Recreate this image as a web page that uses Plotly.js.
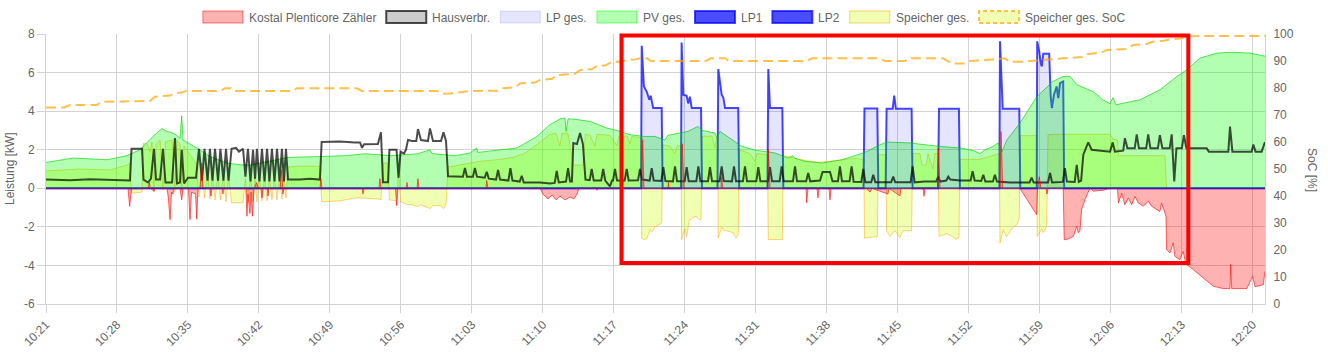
<!DOCTYPE html>
<html><head><meta charset="utf-8">
<script src="https://cdn.plot.ly/plotly-3.0.1.min.js"></script>
<style>html,body{margin:0;padding:0;background:#fff;overflow:hidden}#chart{width:1328px;height:352px}</style>
</head><body><div id="chart"></div>
<script>
const DAY = '2021-06-01 ';

// ---------------- data ----------------
const kostalT = ["10:21:00","10:29:05","10:29:15","10:29:26","10:31:04","10:31:11","10:31:18","10:31:39","10:31:45","10:32:56","10:33:04","10:33:14","10:33:23","10:33:31","10:33:37","10:34:13","10:34:23","10:34:31","10:35:03","10:35:12","10:35:21","10:35:45","10:35:52","10:35:59","10:36:11","10:36:21","10:36:29","10:37:10","10:37:16","10:37:22","10:38:21","10:38:27","10:38:33","10:40:43","10:40:49","10:40:55","10:41:07","10:41:13","10:41:22","10:41:31","10:41:47","10:41:54","10:42:12","10:42:18","10:42:24","10:42:48","10:42:54","10:42:59","10:44:05","10:44:15","10:44:22","10:44:28","10:48:01","10:48:07","10:48:13","10:52:10","10:52:16","10:52:22","10:53:50","10:53:56","10:54:02","10:55:28","10:55:35","10:55:43","10:56:30","10:56:36","10:56:42","10:57:35","10:57:41","10:57:47","11:04:23","11:04:28","11:04:35","11:09:43","11:10:01","11:10:30","11:10:54","11:11:18","11:11:41","11:12:11","11:12:41","11:13:04","11:13:22","11:13:34","11:15:14","11:15:20","11:15:26","11:19:45","11:19:51","11:19:58","11:22:20","11:22:23","11:22:26","11:23:41","11:23:45","11:23:55","11:27:34","11:27:38","11:27:44","11:32:08","11:32:14","11:32:24","11:35:57","11:36:01","11:36:09","11:37:02","11:37:08","11:37:14","11:38:13","11:38:19","11:38:25","11:41:52","11:42:16","11:42:27","11:44:02","11:44:08","11:45:13","11:45:19","11:47:29","11:47:35","11:47:41","11:48:55","11:49:00","11:49:10","11:55:05","11:55:11","11:55:21","11:57:03","11:58:42","11:58:47","11:58:57","11:59:07","11:59:37","11:59:43","11:59:49","12:01:19","12:01:25","12:01:39","12:02:19","12:02:39","12:02:48","12:02:58","12:03:08","12:03:28","12:03:57","12:04:17","12:05:16","12:05:56","12:06:40","12:06:46","12:07:05","12:07:24","12:07:44","12:08:04","12:08:24","12:08:43","12:09:13","12:09:42","12:10:02","12:10:51","12:11:01","12:11:27","12:11:31","12:11:51","12:12:10","12:12:20","12:12:50","12:13:09","12:13:19","12:13:30","12:14:09","12:15:08","12:16:07","12:17:06","12:17:46","12:17:50","12:17:56","12:19:25","12:20:00","12:20:14","12:21:03","12:21:13"];
const kostalV = [0,0,-0.94,0,0,0.3,0,-0.15,0,0,-0.5,-1.63,-0.2,-0.3,0,0,-0.6,0,0,-1.63,-0.2,-0.3,-1.6,0,0,1.31,0,0,-0.4,0,0,-0.3,0,0,-1.45,-0.3,-1.3,-0.2,-1.45,0,0.3,0,0,-0.5,0,0,-0.4,0,0,0.96,-0.3,0,0,0.5,0,0,-0.3,0,0,0.5,0,0,-0.9,0,0,0.3,0,0,0.5,0,0,0.4,0,0,-0.3,-0.55,-0.35,-0.6,-0.4,-0.6,-0.45,-0.55,-0.3,0,0,-0.1,0,0,2.52,0,0,0.3,0,0,2.31,0,0,0.6,0,0,2.04,0,0,-0.75,0,0,-0.5,0,0,-0.6,0,0,-0.2,0,-0.3,0,-0.4,0,0,-0.42,0,0,2.09,0,0,2.95,0,0,-1.37,0,0.6,0,0,-0.3,0,0,-2.66,-2.66,-2.5,-1.97,-2.3,-2.2,-1.1,-0.58,0,-0.15,-0.1,0,0,-0.76,-0.25,-0.85,-0.5,-0.85,-0.42,-0.76,-0.93,-0.67,-0.93,-1.2,-0.76,-1.45,-3.18,-3.35,-2.83,-3.53,-3.7,-3.27,-3.7,-3.95,-4.22,-4.65,-5.08,-5.2,-5.2,-3.95,-5.2,-5.2,-4.57,-5.1,-5.0,-4.3];

const hausT = [
 "10:21:00","10:23:22","10:25:20","10:27:19","10:29:05","10:29:17","10:29:26","10:30:28","10:30:37","10:31:04",
 "10:31:21","10:31:39","10:31:51","10:32:15","10:32:32","10:32:47","10:33:26","10:33:43","10:33:55","10:34:13",
 "10:34:23","10:34:37","10:35:00","10:35:48","10:36:05","10:36:23","10:36:38","10:36:56","10:37:10","10:37:25",
 "10:37:40","10:37:58","10:38:12","10:38:30","10:38:45","10:39:00","10:39:18","10:39:44","10:40:02","10:40:26",
 "10:40:40","10:40:55","10:41:10","10:41:25","10:41:37","10:41:48","10:42:03","10:42:18","10:42:33","10:42:48",
 "10:43:02","10:43:17","10:43:32","10:43:47","10:44:02","10:44:16","10:44:28","10:44:40","10:44:52","10:46:03",
 "10:47:02","10:48:01","10:48:11","10:50:00","10:51:28","10:51:58","10:52:10","10:52:22","10:53:44","10:54:02",
 "10:54:14","10:54:44","10:54:52","10:55:34","10:55:46","10:55:58","10:56:18","10:56:30","10:56:42","10:57:06",
 "10:57:31","10:57:41","10:57:59","10:58:40","10:58:52","10:59:10","10:59:57","11:00:12","11:00:27","11:00:39",
 "11:02:07","11:02:19","11:02:31","11:03:06","11:03:18","11:03:30","11:04:16","11:04:28","11:04:40","11:05:23",
 "11:05:35","11:05:47","11:06:36","11:06:48","11:07:00","11:07:43","11:07:55","11:08:07","11:09:43","11:10:42",
 "11:11:10","11:11:22","11:11:34","11:12:17","11:12:29","11:12:41","11:12:52","11:13:00","11:13:22","11:13:40",
 "11:13:57","11:14:12","11:14:37","11:14:49","11:15:01","11:15:45","11:15:57","11:16:09","11:16:37","11:16:49",
 "11:16:55","11:17:07","11:17:19","11:18:04","11:18:16","11:18:28","11:19:23","11:19:35","11:19:47","11:20:32",
 "11:20:44","11:20:56","11:21:41","11:21:53","11:22:05","11:22:50","11:23:02","11:23:14","11:23:59","11:24:11",
 "11:24:23","11:25:08","11:25:20","11:25:32","11:26:17","11:26:29","11:26:41","11:27:26","11:27:38","11:27:50",
 "11:28:39","11:28:51","11:29:03","11:29:44","11:29:56","11:30:08","11:31:03","11:31:15","11:31:27","11:32:12",
 "11:32:24","11:32:36","11:33:21","11:33:33","11:33:45","11:34:40","11:34:52","11:35:04","11:35:58","11:36:10",
 "11:36:22","11:37:20","11:37:35","11:38:19","11:38:34","11:39:06","11:39:18","11:39:30","11:40:15","11:40:27",
 "11:40:39","11:41:24","11:41:36","11:41:48","11:42:23","11:42:35","11:42:47","11:44:21","11:44:33","11:44:45",
 "11:46:16","11:46:28","11:46:40","11:47:41","11:48:47","11:48:59","11:49:11","11:49:47","11:49:59","11:50:11",
 "11:51:08","11:52:11","11:52:23","11:52:35","11:53:14","11:53:26","11:53:38","11:54:23","11:54:35","11:54:47",
 "11:56:04","11:58:00","11:58:12","11:58:24","11:59:49","12:00:01","12:00:13","12:01:17","12:01:29","12:01:41",
 "12:02:27","12:02:39","12:02:51","12:03:05","12:03:18","12:03:47","12:04:07","12:05:56","12:06:12","12:06:25",
 "12:07:14","12:07:24","12:07:39","12:08:22","12:08:34","12:08:47","12:09:30","12:09:42","12:09:55","12:10:39",
 "12:10:51","12:11:06","12:11:49","12:12:01","12:12:16","12:12:29","12:13:01","12:13:13","12:13:28","12:15:28",
 "12:15:41","12:17:36","12:17:46","12:18:00","12:19:54","12:20:04","12:20:17","12:20:53","12:21:13"];
const hausV = [
 0.45,0.42,0.47,0.43,0.42,0.4,2.05,2.05,0.45,0.3,
 0.5,2.05,0.45,0.45,2.05,0.3,0.3,2.6,0.25,0.3,
 2.0,0.25,0.55,0.55,2.05,0.4,2.05,0.4,2.05,0.4,
 2.05,0.4,2.05,0.4,2.05,0.4,2.05,2.1,1.9,2.05,
 0.6,2.05,0.35,2.0,0.5,2.05,0.35,2.05,0.35,2.05,
 0.35,2.05,0.35,2.05,0.35,2.05,0.35,2.05,0.45,0.45,
 0.5,0.45,2.4,2.42,2.38,2.38,2.1,2.28,2.3,2.9,
 0.31,0.31,2.0,2.0,0.55,1.9,1.8,2.0,2.5,2.45,
 2.45,3.07,2.5,2.45,3.1,2.45,2.45,2.9,2.45,0.62,
 0.6,1.05,0.6,0.6,1.05,0.6,0.55,0.85,0.5,0.45,
 0.95,0.45,0.4,1.05,0.4,0.35,0.65,0.3,0.3,0.25,
 0.28,0.9,0.3,0.35,1.05,0.35,0.35,2.35,2.3,2.87,
 2.3,0.45,0.42,1.0,0.4,0.4,1.0,0.4,0.1,0.4,
 0.4,1.0,0.4,0.4,1.0,0.4,0.42,1.0,0.45,0.4,
 1.05,0.4,0.38,1.1,0.38,0.36,1.14,0.36,0.36,1.1,
 0.36,0.36,1.14,0.36,0.36,1.1,0.36,0.36,1.14,0.38,
 0.36,1.14,0.36,0.36,1.14,0.36,0.36,1.1,0.36,0.36,
 1.1,0.36,0.36,1.14,0.36,0.36,1.14,0.36,0.36,0.8,
 0.36,0.4,0.85,0.85,0.36,0.36,1.14,0.36,0.36,1.14,
 0.34,0.33,1.0,0.31,0.31,0.7,0.31,0.31,0.6,0.31,
 0.31,1.14,0.31,0.35,0.35,0.6,0.35,0.4,0.6,0.45,
 0.4,0.4,0.88,0.4,0.38,0.7,0.35,0.35,0.7,0.35,
 0.3,0.3,0.55,0.3,0.3,0.8,0.3,0.33,1.05,0.35,
 0.33,1.21,0.33,0.4,1.74,2.38,2.0,1.9,2.38,1.9,
 1.95,2.6,2.07,2.07,2.8,2.07,2.07,2.8,2.07,2.07,
 2.75,2.07,2.07,2.8,0.36,2.07,2.07,2.75,2.07,2.07,
 1.9,1.9,3.2,1.9,1.9,2.27,1.9,1.9,2.4];

const pvT = ["10:21:00","10:23:40","10:27:01","10:28:59","10:30:16","10:31:33","10:32:26","10:32:56","10:33:31","10:34:13","10:34:23","10:34:31","10:35:53","10:37:10","10:38:51","10:40:08","10:41:07","10:44:52","10:48:13","10:50:29","10:52:28","10:55:07","10:57:41","10:58:52","10:59:04","11:01:20","11:02:49","11:03:28","11:03:36","11:07:27","11:09:25","11:10:42","11:11:41","11:12:11","11:12:17","11:12:29","11:12:58","11:14:39","11:16:19","11:17:19","11:18:36","11:19:58","11:21:03","11:22:03","11:22:20","11:24:19","11:25:18","11:25:42","11:26:58","11:27:10","11:27:28","11:29:38","11:30:55","11:32:54","11:34:10","11:34:40","11:34:52","11:35:51","11:37:32","11:39:30","11:41:46","11:43:15","11:43:56","11:46:12","11:49:10","11:51:08","11:52:25","11:53:06","11:53:36","11:54:23","11:54:53","11:55:17","11:55:46","11:57:03","11:58:44","12:00:18","12:01:18","12:01:59","12:02:40","12:04:15","12:05:14","12:05:56","12:06:13","12:06:31","12:08:53","12:10:52","12:12:32","12:13:31","12:14:48","12:16:29","12:18:04","12:19:44","12:21:13"];
const pvV = [1.34,1.57,1.48,1.69,2.0,2.69,3.1,2.95,2.87,2.6,3.76,2.5,2.09,1.65,1.31,1.22,1.2,1.6,1.65,1.69,1.79,1.69,1.79,2.0,1.8,1.69,1.83,2.09,1.86,2.09,2.69,3.3,3.59,3.65,2.95,3.6,3.59,3.47,3.12,3.0,2.78,2.69,2.69,2.5,2.75,2.95,3.21,3.0,2.87,2.6,2.95,2.17,1.98,1.83,1.57,1.69,1.55,1.4,1.31,1.48,1.86,2.26,2.4,2.35,2.17,2.09,1.97,1.8,2.0,2.17,2.35,1.9,2.51,3.38,4.76,5.54,5.8,5.8,5.37,5.02,4.59,4.39,4.7,4.33,4.59,5.11,5.8,6.15,6.75,7.01,7.05,7.01,6.85];

const lp1T = ["10:21:00","11:19:41","11:19:45","11:19:58","11:20:14","11:20:30","11:20:38","11:20:46","11:20:53","11:21:43","11:21:49","11:23:37","11:23:41","11:23:51","11:24:11","11:24:20","11:24:30","11:24:41","11:25:36","11:25:42","11:27:13","11:27:18","11:27:38","11:27:48","11:27:58","11:29:16","11:29:22","11:32:09","11:32:14","11:32:24","11:33:37","11:33:43","11:41:37","11:41:43","11:42:59","11:43:05","11:43:48","11:43:54","11:44:30","11:44:39","11:44:49","11:46:22","11:46:28","11:48:58","11:49:04","11:51:02","11:51:08","11:55:01","11:55:05","11:55:21","11:56:59","11:57:05","11:58:42","11:58:45","11:58:57","11:59:06","11:59:12","11:59:21","11:59:56","12:00:05","12:00:12","12:00:24","12:00:40","12:00:50","12:01:00","12:01:19","12:01:25","12:21:13"];
const lp1V = [0,0,7.39,5.28,5.02,4.59,4.8,4.33,4.16,4.16,0,0,7.56,4.85,4.8,4.4,4.75,4.16,4.16,0,0,6.18,4.85,4.7,4.16,4.16,0,0,6.18,4.16,4.16,0,0,4.14,4.14,0,0,4.12,4.12,4.8,4.12,4.12,0,0,4.12,4.12,0,0,7.62,4.12,4.12,0,0,7.62,7.1,6.5,6.32,6.98,6.98,4.76,4.16,4.85,5.28,4.68,5.45,5.54,0,0];

const lp2T = ["10:21:00","12:21:13"];
const lp2V = [0,0];

const speicherT = ["10:21:00","10:24:21","10:27:19","10:28:59","10:29:17","10:29:26","10:30:28","10:30:37","10:30:58","10:31:15","10:31:27","10:31:39","10:31:51","10:32:15","10:32:32","10:32:47","10:33:26","10:33:43","10:33:55","10:34:13","10:34:23","10:34:37","10:35:00","10:35:48","10:36:05","10:36:23","10:36:38","10:36:56","10:37:10","10:37:25","10:37:40","10:37:58","10:38:12","10:38:30","10:38:45","10:39:00","10:39:18","10:40:26","10:40:40","10:40:55","10:41:10","10:41:25","10:41:37","10:41:48","10:42:03","10:42:18","10:42:33","10:42:48","10:43:02","10:43:17","10:43:32","10:43:47","10:44:02","10:44:16","10:44:28","10:44:40","10:44:52","10:46:03","10:48:01","10:48:11","10:50:00","10:51:28","10:51:58","10:53:44","10:54:02","10:54:14","10:54:44","10:54:52","10:55:34","10:55:46","10:55:58","10:56:42","10:57:06","10:57:41","10:57:59","10:58:34","10:58:52","10:59:10","10:59:57","11:00:12","11:00:27","11:00:39","11:03:48","11:05:46","11:07:03","11:08:08","11:08:44","11:09:43","11:10:42","11:11:18","11:11:41","11:11:53","11:12:29","11:13:00","11:13:57","11:14:12","11:14:39","11:15:08","11:15:20","11:16:37","11:17:19","11:17:30","11:18:18","11:18:36","11:18:47","11:19:41","11:19:45","11:19:58","11:20:16","11:20:34","11:20:46","11:21:03","11:21:43","11:21:49","11:22:32","11:23:02","11:23:14","11:23:37","11:23:41","11:24:01","11:24:11","11:24:25","11:24:41","11:25:06","11:25:30","11:25:36","11:25:42","11:26:41","11:26:59","11:27:10","11:27:16","11:27:18","11:27:38","11:27:48","11:28:45","11:29:03","11:29:16","11:29:22","11:30:26","11:30:55","11:31:07","11:32:09","11:32:14","11:33:37","11:33:43","11:35:21","11:36:21","11:37:20","11:39:18","11:40:47","11:41:40","11:41:43","11:42:59","11:43:05","11:43:50","11:43:54","11:44:14","11:44:43","11:45:13","11:45:31","11:46:22","11:46:28","11:47:11","11:47:23","11:47:47","11:47:59","11:48:28","11:48:40","11:48:58","11:49:04","11:49:51","11:50:50","11:51:02","11:51:08","11:53:06","11:55:01","11:55:05","11:55:24","11:55:44","11:56:04","11:56:23","11:56:44","11:56:59","11:57:05","11:58:42","11:58:45","11:59:12","11:59:21","11:59:41","11:59:49","12:01:00","12:05:56","12:06:13","12:06:40","12:06:46","12:11:21","12:11:31","12:21:13"];
const speicherV = [0.9,1.0,0.95,1.2,1.31,-0.25,-0.2,2.35,2.3,1.9,2.4,-0.2,2.3,2.5,-0.1,2.4,2.5,-0.2,2.5,2.3,-0.1,2.2,1.9,1.3,-0.45,0.9,-0.5,0.9,-0.55,0.8,-0.6,0.8,-0.6,0.7,-0.7,0.6,-0.75,-0.75,0.5,-0.75,0.6,-0.7,0.6,-0.7,0.6,-0.65,0.6,-0.65,0.6,-0.6,0.6,-0.6,0.6,-0.55,0.6,-0.5,1.1,1.15,1.15,-0.7,-0.65,-0.5,-0.5,-0.55,-0.6,1.3,1.3,-0.6,-0.65,0.9,-0.7,-0.85,-0.85,-0.95,-0.85,-1.0,-1.05,-0.9,-0.9,-1.05,-0.8,1.1,1.4,1.5,1.6,1.8,2.0,2.4,2.8,2.85,2.2,2.85,2.85,1.2,1.2,2.8,2.75,2.2,2.8,2.75,2.2,2.7,2.7,2.3,2.7,2.6,-2.58,-2.66,-2.6,-2.15,-2.25,-2.0,-1.8,2.25,2.2,1.8,2.2,2.2,-2.66,-2.1,-2.5,-1.7,-1.55,-1.45,-1.65,-1.6,2.7,2.7,2.1,2.7,2.7,-2.58,-2.0,-2.15,-2.3,-2.58,-2.4,2.0,1.8,1.4,1.8,1.75,-2.66,-2.66,1.7,1.5,1.4,1.35,1.45,1.55,1.5,-2.58,-2.5,1.74,1.74,-2.2,-2.5,-2.2,-2.55,-2.2,-2.2,1.8,1.8,1.2,1.2,1.8,1.0,1.8,1.8,-2.49,-2.35,-2.65,-2.5,1.5,1.5,1.8,-2.84,-2.15,-2.5,-2.25,-2.0,-1.9,-1.6,2.73,2.73,-2.5,-2.1,-2.3,-1.97,2.78,2.8,2.8,2.55,2.5,1.69,1.69,0,0];

const socT = ["10:21:00","10:22:47","10:23:22","10:26:02","10:26:25","10:31:15","10:31:45","10:33:14","10:33:37","10:34:25","10:34:48","10:38:10","10:38:39","10:39:15","10:39:32","10:45:16","10:45:45","10:51:40","10:52:10","10:59:34","11:00:09","11:00:51","11:02:49","11:05:29","11:05:58","11:07:15","11:07:45","11:09:13","11:09:43","11:10:54","11:11:24","11:13:10","11:13:40","11:14:51","11:15:20","11:16:14","11:16:37","11:17:48","11:18:18","11:19:11","11:19:35","11:20:16","11:20:40","11:26:05","11:26:35","11:27:58","11:28:21","11:36:03","11:36:32","11:43:15","11:43:44","11:45:43","11:46:12","11:49:28","11:49:57","11:50:21","11:51:38","11:52:07","11:54:35","11:55:34","11:56:04","11:57:33","11:58:02","12:01:00","12:01:41","12:03:10","12:03:40","12:05:08","12:05:38","12:07:36","12:08:12","12:09:35","12:10:10","12:11:15","12:11:51","12:12:50","12:13:31","12:14:48","12:21:13"];
const socV = [72.8,72.8,73.7,73.7,74.9,75.2,76.8,77.2,78.0,78.4,78.9,78.9,79.9,79.9,78.9,78.9,79.9,79.9,78.9,78.9,77.9,78.0,78.9,79.0,79.9,80.2,81.7,82.0,83.0,83.4,84.8,85.3,86.7,87.0,88.1,88.4,89.4,89.8,90.4,90.6,91.0,91.0,90.0,90.0,91.0,91.0,90.0,90.0,91.0,91.0,90.0,90.0,91.0,91.0,90.0,89.1,89.1,90.0,90.6,91.0,89.7,89.7,90.0,90.8,91.2,91.5,92.5,93.2,94.1,94.5,95.9,96.3,97.2,97.5,98.0,98.3,99.0,99.3,99.3];

const seriesNames = ["Kostal Plenticore Zähler","Hausverbr.","LP ges.","PV ges.","LP1","LP2","Speicher ges.","Speicher ges. SoC"];
const xRange = ["10:21:00","12:21:13"];
const xTick0 = "10:21:00";
const leftTickVals = [-6,-4,-2,0,2,4,6,8];
const leftTickText = ["-6","-4","-2","0","2","4","6","8"];
const leftTitle = "Leistung [kW]";
const rightTitle = "SoC [%]";

// ---------------- styling ----------------
const C = {
  kostalFill:'rgba(255,0,0,0.3)', kostalLine:'rgba(255,0,0,0.6)',
  hausLine:'rgba(0,0,0,0.7)', hausFill:'rgba(0,0,0,0.2)',
  lpFill:'rgba(0,0,255,0.1)', lpLine:'rgba(0,0,255,0.1)',
  pvFill:'rgba(0,255,0,0.3)', pvLine:'rgba(0,215,0,0.65)',
  lpnLine:'rgba(0,0,255,0.7)',
  spFill:'rgba(210,255,0,0.3)', spLine:'rgba(255,165,0,0.5)',
  socLine:'rgba(255,165,0,0.7)'
};
const X = a => a.map(t => DAY + t);
const GRID = '#d3d3d3';
const TXT = '#666';
const FONT = "'Liberation Sans', Arial, Helvetica, sans-serif";

const traces = [
  {x:X(socT), y:socV, yaxis:'y2', mode:'lines', line:{color:C.socLine, width:2, dash:'10px,5px'}},
  {x:X(speicherT), y:speicherV, mode:'lines', fill:'tozeroy', fillcolor:C.spFill, line:{color:C.spLine, width:1}},
  {x:X(lp2T), y:lp2V, mode:'lines', line:{color:C.lpnLine, width:2}},
  {x:X(lp1T), y:lp1V, mode:'lines', line:{color:C.lpnLine, width:2}},
  {x:X(pvT), y:pvV, mode:'lines', fill:'tozeroy', fillcolor:C.pvFill, line:{color:C.pvLine, width:1}},
  {x:X(lp1T), y:lp1V, mode:'lines', fill:'tozeroy', fillcolor:C.lpFill, line:{color:C.lpLine, width:1}}, // LP ges. = LP1 + LP2 (LP2 is 0)
  {x:X(hausT), y:hausV, mode:'lines', line:{color:C.hausLine, width:2}},
  {x:X(kostalT), y:kostalV, mode:'lines', fill:'tozeroy', fillcolor:C.kostalFill, line:{color:C.kostalLine, width:1}}
].map(t => Object.assign(t, {showlegend:false, hoverinfo:'skip'}));

// plot area in pixels
const W = 1328, H = 352, L = 46, R = 1265, T = 34, B = 304;
const px = x => (x - L) / (R - L);
const py = y => (B - y) / (B - T);

// custom legend (boxes like the original)
const legendStyle = [
  {fill:C.kostalFill, line:'rgba(255,0,0,0.5)', w:1},
  {fill:C.hausFill, line:C.hausLine, w:2},
  {fill:C.lpFill, line:'rgba(0,0,255,0.12)', w:1},
  {fill:C.pvFill, line:'rgba(0,255,0,0.5)', w:1},
  {fill:C.lpnLine, line:'rgba(0,0,255,0.7)', w:2},
  {fill:C.lpnLine, line:'rgba(0,0,255,0.7)', w:2},
  {fill:C.spFill, line:'rgba(255,165,0,0.5)', w:1},
  {fill:C.spFill, line:C.socLine, w:2, dash:'4px,3px'}
];
const ctx = document.createElement('canvas').getContext('2d');
ctx.font = "12px " + FONT;
const widths = seriesNames.map(n => ctx.measureText(n).width);
const total = widths.reduce((a, w) => a + 46 + w, 0) + 10 * (seriesNames.length - 1);
let lx = (W - total) / 2;
const shapes = [], annotations = [];
seriesNames.forEach((n, i) => {
  const s = legendStyle[i];
  shapes.push({type:'rect', xref:'paper', yref:'paper', x0:px(lx), x1:px(lx + 40), y0:py(23), y1:py(11),
    fillcolor:s.fill, line:{color:s.line, width:s.w, dash:s.dash || 'solid'}, layer:'above'});
  annotations.push({xref:'paper', yref:'paper', x:px(lx + 44), y:py(17.5), xanchor:'left', yanchor:'middle',
    text:n, showarrow:false, font:{family:FONT, size:12, color:TXT}});
  lx += 46 + widths[i] + 10;
});
// axis titles
annotations.push({xref:'paper', yref:'paper', x:px(10), y:py(169), text:leftTitle, textangle:-90, showarrow:false,
  xanchor:'center', yanchor:'middle', font:{family:FONT, size:12, color:TXT}});
annotations.push({xref:'paper', yref:'paper', x:px(1312), y:py(170), text:rightTitle, textangle:90, showarrow:false,
  xanchor:'center', yanchor:'middle', font:{family:FONT, size:12, color:TXT}});
// red highlight frame
shapes.push({type:'rect', xref:'paper', yref:'paper', x0:px(621.5), x1:px(1188.3), y0:py(263), y1:py(35.5),
  line:{color:'#ff0000', width:4}, fillcolor:'rgba(0,0,0,0)', layer:'above'});

const layout = {
  width:W, height:H, margin:{l:L, r:W - R, t:T, b:H - B, pad:0},
  paper_bgcolor:'#fff', plot_bgcolor:'#fff', showlegend:false,
  font:{family:FONT, size:12, color:TXT},
  xaxis:{type:'date', range:X(xRange), tick0:DAY + xTick0, dtick:7*60*1000, tickformat:'%H:%M',
    tickangle:-45, showgrid:true, gridcolor:GRID, gridwidth:1, showline:true, linecolor:GRID,
    ticks:'outside', ticklen:8, tickcolor:GRID, zeroline:false, automargin:false,
    tickfont:{family:FONT, size:12, color:TXT}},
  yaxis:{range:[-6, 8], tickmode:'array', tickvals:leftTickVals, ticktext:leftTickText,
    showgrid:true, gridcolor:GRID, showline:true, linecolor:GRID, zeroline:false,
    ticks:'outside', ticklen:8, tickcolor:GRID, automargin:false,
    tickfont:{family:FONT, size:12, color:TXT}},
  yaxis2:{range:[0, 100], dtick:10, overlaying:'y', side:'right', showgrid:false, zeroline:false,
    showline:true, linecolor:GRID, ticks:'outside', ticklen:5, tickcolor:'rgba(0,0,0,0)', automargin:false,
    tickfont:{family:FONT, size:12, color:TXT}},
  shapes, annotations
};
Plotly.newPlot('chart', traces, layout, {staticPlot:true, displayModeBar:false});
</script></body></html>
